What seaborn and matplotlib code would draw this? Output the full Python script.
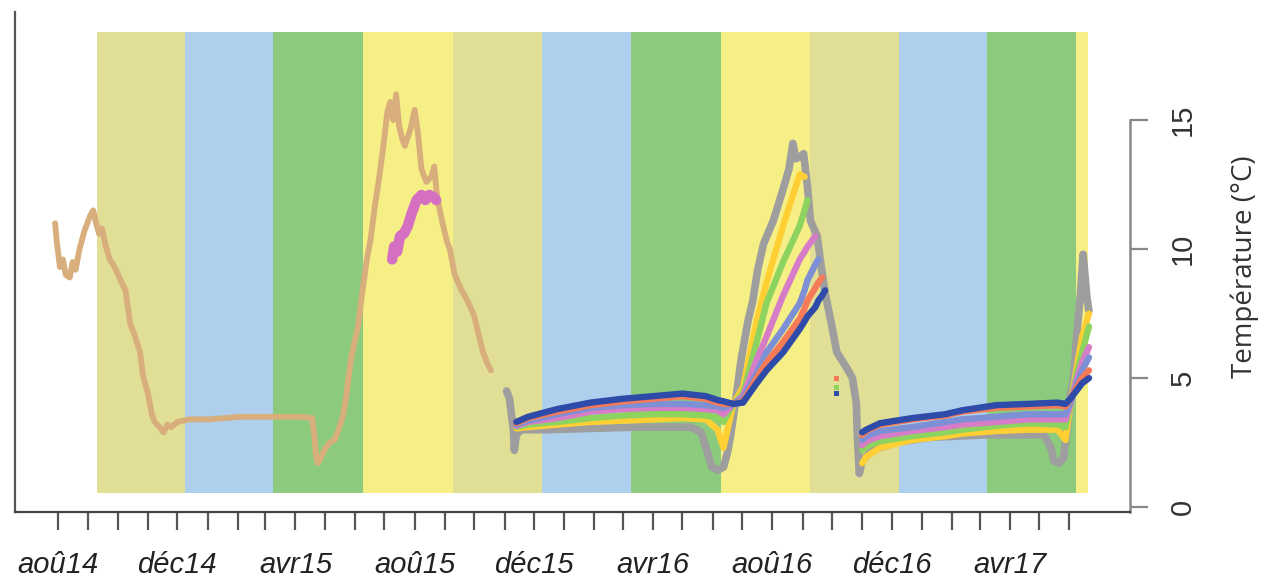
import matplotlib
matplotlib.use("Agg")
import matplotlib.pyplot as plt
import pandas as pd
import seaborn as sns

# ---------------- data ----------------
season_edges = ["2014-09-10", "2014-12-09", "2015-03-09", "2015-06-09", "2015-09-09",
                "2015-12-09", "2016-03-09", "2016-06-09", "2016-09-09", "2016-12-09",
                "2017-03-09", "2017-06-08", "2017-06-20"]
season_names = ["automne", "hiver", "printemps", "été"] * 3
season_colors = {"automne": "#E0DF95", "hiver": "#AED0EC", "printemps": "#8CCB7D", "été": "#F5EF86"}

month_ticks = pd.date_range("2014-08-01", "2017-06-01", freq="MS")
label_ticks = pd.date_range("2014-08-01", "2017-04-01", freq="4MS")
tick_labels = ["aoû14", "déc14", "avr15", "aoû15", "déc15", "avr16", "aoû16", "déc16", "avr17"]
y_ticks = [0, 5, 10, 15]

# first logger (2014-2015)
tan_dates = ["2014-07-29", "2014-07-31", "2014-08-03", "2014-08-06", "2014-08-09", "2014-08-13",
             "2014-08-16", "2014-08-19", "2014-08-23", "2014-08-28", "2014-09-03", "2014-09-06",
             "2014-09-09", "2014-09-12", "2014-09-15", "2014-09-19", "2014-09-23", "2014-09-28",
             "2014-10-04", "2014-10-09", "2014-10-12", "2014-10-14", "2014-10-19", "2014-10-24",
             "2014-10-27", "2014-11-01", "2014-11-05", "2014-11-08", "2014-11-13", "2014-11-17",
             "2014-11-21", "2014-11-25", "2014-12-01", "2014-12-13", "2015-01-03", "2015-02-04",
             "2015-03-05", "2015-04-06", "2015-04-18", "2015-04-20", "2015-04-22", "2015-04-24",
             "2015-04-28", "2015-05-02", "2015-05-06", "2015-05-11", "2015-05-16", "2015-05-20",
             "2015-05-23", "2015-05-28", "2015-06-04", "2015-06-09", "2015-06-13", "2015-06-17",
             "2015-06-21", "2015-06-25", "2015-06-30", "2015-07-04", "2015-07-07", "2015-07-10",
             "2015-07-13", "2015-07-16", "2015-07-19", "2015-07-22", "2015-07-28", "2015-08-01",
             "2015-08-04", "2015-08-08", "2015-08-13", "2015-08-18", "2015-08-21", "2015-08-24",
             "2015-08-29", "2015-09-03", "2015-09-06", "2015-09-11", "2015-09-18", "2015-09-24",
             "2015-10-01", "2015-10-06", "2015-10-10", "2015-10-14", "2015-10-18"]
tan_vals = [11.0, 10.2, 9.3, 9.6, 9.0, 8.9,
            9.5, 9.2, 10.0, 10.7, 11.3, 11.5,
            11.0, 10.6, 10.8, 10.1, 9.6, 9.3,
            8.8, 8.4, 7.6, 7.1, 6.6, 6.0,
            5.1, 4.4, 3.6, 3.3, 3.1, 2.9,
            3.2, 3.1, 3.3, 3.4, 3.4, 3.5,
            3.5, 3.5, 3.45, 2.9, 2.0, 1.7,
            2.0, 2.3, 2.5, 2.6, 3.1, 3.6,
            4.3, 5.8, 7.0, 8.5, 9.6, 10.4,
            11.6, 12.6, 14.0, 15.3, 15.7, 15.0,
            16.0, 14.8, 14.3, 14.0, 14.7, 15.4,
            14.6, 13.1, 12.6, 12.8, 13.2, 12.0,
            11.1, 10.3, 10.0, 9.0, 8.4, 8.0,
            7.4, 6.6, 6.0, 5.6, 5.3]

pink15_dates = ["2015-07-09", "2015-07-11", "2015-07-14", "2015-07-17", "2015-07-21", "2015-07-25",
                "2015-07-29", "2015-08-03", "2015-08-08", "2015-08-12", "2015-08-16", "2015-08-21",
                "2015-08-23"]
pink15_vals = [9.6, 10.1, 9.9, 10.5, 10.6, 10.9, 11.4, 11.9, 12.1, 11.9, 12.1, 12.0, 11.9]

# second chain of loggers (2015-2017)
gray_dates = ["2015-11-03", "2015-11-06", "2015-11-08", "2015-11-10", "2015-11-11", "2015-11-13",
              "2015-11-18", "2015-12-15", "2016-01-28", "2016-03-15", "2016-05-10", "2016-05-20",
              "2016-05-26", "2016-05-31", "2016-06-06", "2016-06-12", "2016-06-16", "2016-06-19",
              "2016-06-24", "2016-06-30", "2016-07-07", "2016-07-12", "2016-07-17", "2016-07-23",
              "2016-08-02", "2016-08-11", "2016-08-18", "2016-08-22", "2016-08-25", "2016-08-30",
              "2016-09-02", "2016-09-06", "2016-09-09", "2016-09-16", "2016-09-19", "2016-09-24",
              "2016-10-01", "2016-10-06", "2016-10-16", "2016-10-22", "2016-10-26", "2016-10-27",
              "2016-10-29", "2016-11-01", "2016-11-11", "2016-12-05", "2017-01-08", "2017-03-08",
              "2017-05-06", "2017-05-13", "2017-05-16", "2017-05-21", "2017-05-26", "2017-05-30",
              "2017-06-02", "2017-06-05", "2017-06-09", "2017-06-12", "2017-06-15", "2017-06-19",
              "2017-06-21"]
gray_vals = [4.5, 4.2, 3.6, 3.0, 2.2, 2.8,
             3.0, 3.0, 3.05, 3.1, 3.1, 2.9,
             2.2, 1.55, 1.43, 1.55, 2.1, 2.7,
             4.0, 5.7, 7.2, 8.0, 9.2, 10.2,
             11.1, 12.2, 13.1, 14.1, 13.5, 13.6,
             13.7, 12.4, 11.1, 10.5, 9.6, 8.3,
             7.0, 6.0, 5.4, 5.0, 4.0, 2.7,
             1.3, 1.8, 2.2, 2.5, 2.7, 2.8,
             2.8, 2.3, 1.8, 1.7, 1.9, 3.1,
             4.4, 4.9, 6.9, 8.1, 9.8, 8.1,
             7.6]

a_dates = ["2015-11-13", "2015-11-25", "2015-12-25", "2016-01-28", "2016-03-01", "2016-04-01",
           "2016-05-01", "2016-05-25", "2016-06-06", "2016-06-12", "2016-06-22", "2016-07-02",
           "2016-07-16", "2016-07-26", "2016-08-12", "2016-08-29", "2016-09-03", "2016-09-06",
           "2016-09-14", "2016-09-17", "2016-09-21", "2016-09-24"]
yellow_a = [3.05, 3.1, 3.2, 3.3, 3.35, 3.4, 3.45, 3.4, 3.0, 2.3, 4.0, 4.65, 7.2, 8.7, 10.9, 12.9, 12.8]
green_a = [3.1, 3.2, 3.3, 3.45, 3.55, 3.6, 3.6, 3.55, 3.45, 3.3, 4.0, 4.4, 6.4, 7.9, 9.5, 10.9, 11.5, 11.9]
pink_a = [3.15, 3.3, 3.45, 3.7, 3.8, 3.85, 3.85, 3.8, 3.75, 3.6, 4.0, 4.3, 5.7, 6.6, 8.2, 9.6, 9.9, 10.1, 10.5]
lav_a = [3.2, 3.35, 3.6, 3.85, 3.95, 4.0, 4.0, 3.95, 3.9, 3.85, 4.0, 4.2, 5.2, 6.0, 6.9, 7.9, 8.4, 8.8, 9.4, 9.6]
orange_a = [3.25, 3.45, 3.7, 3.95, 4.1, 4.2, 4.3, 4.2, 4.05, 4.0, 4.0, 4.1, 5.0, 5.6, 6.4, 7.3, 7.7, 8.0, 8.5, 8.7, 8.9]
blue_a = [3.3, 3.5, 3.8, 4.05, 4.2, 4.3, 4.4, 4.3, 4.15, 4.1, 4.0, 4.05, 4.8, 5.3, 6.0, 6.9, 7.2, 7.4, 7.75, 8.0, 8.2, 8.4]

b_dates = ["2016-11-01", "2016-11-05", "2016-11-19", "2016-12-22", "2017-01-25", "2017-02-11",
           "2017-03-18", "2017-04-20", "2017-05-20", "2017-05-28", "2017-06-02", "2017-06-08",
           "2017-06-14", "2017-06-21"]
yellow_b = [1.7, 1.95, 2.3, 2.6, 2.75, 2.85, 2.95, 3.0, 3.0, 2.6, 4.0, 5.3, 6.6, 7.5]
green_b = [2.2, 2.35, 2.55, 2.75, 2.9, 3.0, 3.15, 3.25, 3.2, 3.1, 4.0, 5.1, 6.0, 7.0]
pink_b = [2.4, 2.55, 2.75, 2.95, 3.1, 3.2, 3.3, 3.4, 3.4, 3.4, 4.0, 4.9, 5.6, 6.2]
lav_b = [2.6, 2.75, 2.95, 3.1, 3.3, 3.4, 3.5, 3.6, 3.6, 3.6, 4.1, 4.7, 5.3, 5.8]
orange_b = [2.8, 2.95, 3.2, 3.4, 3.55, 3.7, 3.85, 3.9, 3.95, 3.9, 4.2, 4.6, 5.0, 5.3]
blue_b = [2.9, 3.0, 3.25, 3.45, 3.6, 3.75, 3.95, 4.0, 4.05, 4.0, 4.2, 4.5, 4.8, 5.0]

lone_date = "2016-10-06"
lone_vals = [5.0, 4.65, 4.4]          # orange, green, dark blue

col = {"tan": "#D8AE7C", "pink15": "#D46FC2", "gray": "#9E9E9E", "yellow": "#FFCF33",
       "green": "#8DD35F", "pink": "#D77DC8", "lav": "#7D90D6", "orange": "#F57A57", "blue": "#2F4BA9"}

# ---------------- figure ----------------
sns.set_theme(style="white")
plt.rcParams["font.family"] = ["Liberation Sans", "DejaVu Sans"]

fig = plt.figure(figsize=(12.61, 5.8), dpi=100)
ax = fig.add_axes([15 / 1261, 68 / 580, 1115 / 1261, 500 / 580])
ymin, ymax = -0.19, 19.19

edges = pd.to_datetime(season_edges)
for i, name in enumerate(season_names):
    ax.fill_between([edges[i], edges[i + 1]], 0.54, 18.41, color=season_colors[name],
                    linewidth=0, zorder=0)


def line(dates, vals, color, lw):
    df = pd.DataFrame({"date": pd.to_datetime(list(dates)[:len(vals)]), "temp": vals})
    sns.lineplot(data=df, x="date", y="temp", color=color, linewidth=lw, ax=ax,
                 estimator=None, sort=False, solid_joinstyle="round", solid_capstyle="round")


line(tan_dates, tan_vals, col["tan"], 4.2)
line(pink15_dates, pink15_vals, col["pink15"], 7.5)
line(gray_dates, gray_vals, col["gray"], 5.5)
for key, sa, sb in [("yellow", yellow_a, yellow_b), ("green", green_a, green_b),
                    ("pink", pink_a, pink_b), ("lav", lav_a, lav_b),
                    ("orange", orange_a, orange_b), ("blue", blue_a, blue_b)]:
    line(a_dates, sa, col[key], 4.6)
    line(b_dates, sb, col[key], 4.6)

lone = pd.DataFrame({"date": pd.to_datetime([lone_date] * 3), "temp": lone_vals,
                     "c": ["orange", "green", "blue"]})
sns.scatterplot(data=lone, x="date", y="temp", hue="c", palette=[col["orange"], col["green"], col["blue"]],
                marker="s", s=14, linewidth=0, legend=False, ax=ax)

ax.set_xlim(pd.Timestamp("2014-06-18"), pd.Timestamp("2017-08-02"))
ax.set_ylim(ymin, ymax)

# x axis: monthly ticks, label every 4 months
ax.set_xticks(month_ticks, minor=True)
ax.set_xticks(label_ticks, labels=tick_labels)
ax.tick_params(axis="x", which="both", bottom=True, length=13, width=1.6, color="#555555",
               direction="out", pad=15, labelsize=21, labelcolor="#222222")
for t in ax.get_xticklabels():
    t.set_fontstyle("italic")

# y axis on the right
ax.yaxis.tick_right()
ax.set_yticks(y_ticks)
ax.tick_params(axis="y", which="major", right=True, left=False, length=13, width=1.6,
               color="#888888", direction="out", pad=15, labelsize=21, labelcolor="#333333")
for t in ax.get_yticklabels():
    t.set_rotation(90)
    t.set_va("center")
ax.set_xlabel("")
ax.set_ylabel("")
ax.text((1245 - 15) / 1115, (512 - 267) / 500, "Température (°C)", transform=ax.transAxes,
        rotation=90, ha="center", va="center", fontsize=20, color="#333333",
        family=["Open Sans", "DejaVu Sans"])

ax.spines["top"].set_visible(False)
ax.spines["left"].set_color("#555555")
ax.spines["left"].set_linewidth(1.6)
ax.spines["bottom"].set_color("#444444")
ax.spines["bottom"].set_linewidth(1.6)
ax.spines["right"].set_color("#888888")
ax.spines["right"].set_linewidth(1.8)
ax.spines["right"].set_bounds(ymin, 15)
ax.grid(False)

fig.savefig("out.png", dpi=100)
